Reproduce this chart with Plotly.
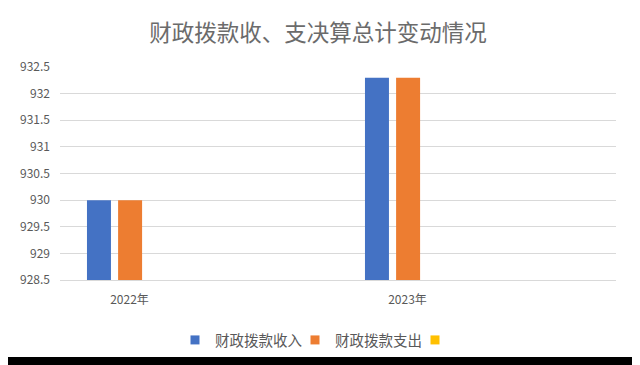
import plotly.graph_objects as go

categories = ["2022年", "2023年"]
income = [930.0, 932.3]      # 财政拨款收入
expense = [930.0, 932.3]     # 财政拨款支出
third = [None, None]         # unnamed third series (empty)
series_names = ["财政拨款收入", "财政拨款支出", ""]
y_ticks = [928.5, 929, 929.5, 930, 930.5, 931, 931.5, 932, 932.5]

FONT = "Noto Sans CJK SC, Noto Sans, sans-serif"
GREY = "#595959"
W, H = 640, 365
# the page puts the figure at (8, 8); positions below are in figure pixels
ML, MT = 52, 59
PW, PH = 556, 213
MR, MB = W - ML - PW, H - MT - PH

xpos = list(range(len(categories)))
bar_w = 0.0863

fig = go.Figure()
colors = ["#4472C4", "#ED7D31", "#FFC000"]
offsets = [-0.403, -0.291, -0.179]
for vals, name, col, off in zip([income, expense, third], series_names, colors, offsets):
    fig.add_trace(go.Bar(x=xpos, y=vals, name=name, width=bar_w, offset=off,
                         marker=dict(color=col, line=dict(width=0)),
                         showlegend=False))
    fig.add_trace(go.Scatter(x=[None], y=[None], mode="markers", name=name,
                             marker=dict(symbol="square", size=9, color=col),
                             showlegend=True))

def px_to_paper_x(px):
    return (px - ML) / PW

def px_to_paper_y(py):
    return (MT + PH - py) / PH

fig.add_shape(type="rect", xref="paper", yref="paper", layer="below",
              x0=px_to_paper_x(-3), x1=px_to_paper_x(626),
              y0=px_to_paper_y(349), y1=px_to_paper_y(-3),
              fillcolor="white", line=dict(width=0))

fig.update_layout(
    width=W, height=H,
    margin=dict(l=ML, r=MR, t=MT, b=MB, autoexpand=False),
    paper_bgcolor="black",
    plot_bgcolor="rgba(0,0,0,0)",
    barmode="overlay",
    font=dict(family=FONT, color=GREY, size=12),
    title=dict(text="财政拨款收、支决算总计变动情况", x=310 / W, xanchor="center",
               y=1 - 25 / H, yanchor="middle",
               font=dict(family=FONT, size=22.5, color="#6b6b6b")),
    legend=dict(orientation="h", x=px_to_paper_x(167), xanchor="left",
                y=px_to_paper_y(332), yanchor="middle",
                font=dict(family=FONT, size=14.5, color=GREY),
                itemwidth=30, entrywidth=75, entrywidthmode="pixels",
                bgcolor="rgba(0,0,0,0)", tracegroupgap=0),
    showlegend=True,
)
fig.update_xaxes(range=[-0.5, 1.5], tickvals=[p - 0.25 for p in xpos], ticktext=categories,
                 showgrid=False, zeroline=False, showline=True, linecolor="#D9D9D9",
                 linewidth=1, ticks="", automargin=False, ticklabelstandoff=9,
                 tickfont=dict(size=12, color=GREY, family=FONT))
fig.update_yaxes(range=[928.5, 932.5], tickvals=y_ticks, ticktext=[f"{v:g}" for v in y_ticks],
                 showgrid=True, gridcolor="#D9D9D9", gridwidth=1, zeroline=False,
                 showline=False, ticks="", automargin=False, ticklabelstandoff=9,
                 tickfont=dict(size=12, color=GREY, family=FONT))

fig.write_html("out.html")
